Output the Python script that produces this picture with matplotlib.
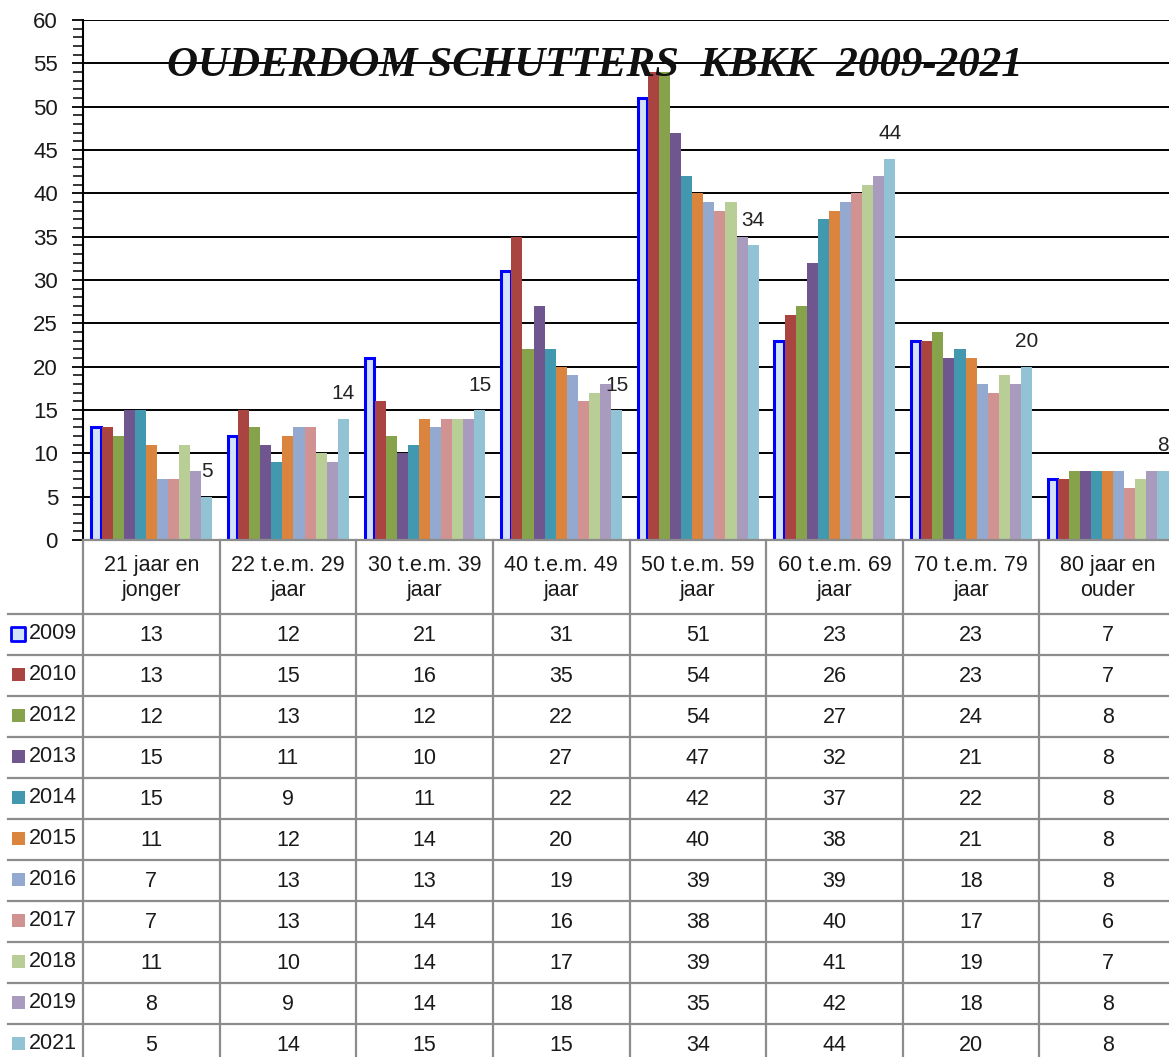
import numpy as np
import matplotlib
matplotlib.use("Agg")
import matplotlib.pyplot as plt
from matplotlib.ticker import MultipleLocator

plt.rcParams['font.family'] = ['Liberation Sans', 'DejaVu Sans']

# ---- data -------------------------------------------------------------
categorieen = ["21 jaar en\njonger", "22 t.e.m. 29\njaar", "30 t.e.m. 39\njaar",
               "40 t.e.m. 49\njaar", "50 t.e.m. 59\njaar", "60 t.e.m. 69\njaar",
               "70 t.e.m. 79\njaar", "80 jaar en\nouder"]
jaren = ["2009", "2010", "2012", "2013", "2014", "2015",
         "2016", "2017", "2018", "2019", "2021"]

w2009 = [13, 12, 21, 31, 51, 23, 23, 7]
w2010 = [13, 15, 16, 35, 54, 26, 23, 7]
w2012 = [12, 13, 12, 22, 54, 27, 24, 8]
w2013 = [15, 11, 10, 27, 47, 32, 21, 8]
w2014 = [15, 9, 11, 22, 42, 37, 22, 8]
w2015 = [11, 12, 14, 20, 40, 38, 21, 8]
w2016 = [7, 13, 13, 19, 39, 39, 18, 8]
w2017 = [7, 13, 14, 16, 38, 40, 17, 6]
w2018 = [11, 10, 14, 17, 39, 41, 19, 7]
w2019 = [8, 9, 14, 18, 35, 42, 18, 8]
w2021 = [5, 14, 15, 15, 34, 44, 20, 8]
reeksen = [w2009, w2010, w2012, w2013, w2014, w2015,
           w2016, w2017, w2018, w2019, w2021]

kleuren = ['#d3e2f8', '#a94441', '#86a34b', '#6f568f', '#4198af', '#db843d',
           '#93a9cf', '#d19392', '#b9cd96', '#a99bbd', '#92c3d4']

# ---- figuur -----------------------------------------------------------
W, H = 1169, 1057
fig = plt.figure(figsize=(W / 100, H / 100), dpi=100)

x_links, x_rechts = 83, 1176      # pixelgrenzen van het plotgebied
y_boven, y_onder = 20, 540
ax = fig.add_axes([x_links / W, 1 - y_onder / H,
                   (x_rechts - x_links) / W, (y_onder - y_boven) / H])

n_cat = len(categorieen)
n_ser = len(reeksen)
bw = 0.081
x = np.arange(n_cat) + 0.5

for j, (vals, kleur) in enumerate(zip(reeksen, kleuren)):
    pos = x + (j - (n_ser - 1) / 2) * bw
    if j == 0:
        ax.bar(pos, vals, width=bw * 0.84, color=kleur, edgecolor='#0000ff',
               linewidth=2.2, zorder=3)
    else:
        ax.bar(pos, vals, width=bw, color=kleur, edgecolor='none', zorder=3)
    if j == n_ser - 1:
        for xx, v in zip(pos, vals):
            ax.annotate(str(v), (xx, v), xytext=(0, 11), textcoords='offset points',
                        ha='center', va='bottom', fontsize=15, color='#222222',
                        annotation_clip=False)

ax.set_xlim(0, n_cat)
ax.set_ylim(0, 60)
ax.yaxis.set_major_locator(MultipleLocator(5))
ax.yaxis.set_minor_locator(MultipleLocator(1))
ax.tick_params(axis='y', which='major', direction='out', length=8, width=1.3,
               labelsize=16, pad=10, labelcolor='#1a1a1a')
ax.tick_params(axis='y', which='minor', direction='out', length=7, width=1.1)
ax.set_xticks([])
for s in ['top', 'right', 'bottom']:
    ax.spines[s].set_visible(False)
ax.spines['left'].set_linewidth(1.5)
for yv in range(5, 61, 5):
    ax.axhline(yv, color='black', lw=1.4, zorder=1)

ax.text(0.468, 0.912, "OUDERDOM SCHUTTERS  KBKK  2009-2021", transform=ax.transAxes,
        ha='center', va='center', fontsize=31, fontstyle='italic', fontweight='bold',
        family='Liberation Serif', color='#111111', zorder=5)

# ---- tabel onder de grafiek --------------------------------------------
tab = fig.add_axes([x_links / W, 0, (x_rechts - x_links) / W, (H - y_onder) / H])
tab.set_xlim(0, n_cat)
tab.set_ylim(H - y_onder, 0)
tab.axis('off')

kop_h = 74
rij_h = 41
px = (x_rechts - x_links) / n_cat
x_lab = (8 - x_links) / px        # linkerrand van de labelkolom
grijs = '#8c8c8c'

tab.plot([0, n_cat], [0, 0], color=grijs, lw=1.6, clip_on=False)
for i in range(n_cat + 1):
    tab.plot([i, i], [0, H], color=grijs, lw=1.6, clip_on=False)
for k in range(n_ser + 1):
    yk = kop_h + k * rij_h
    tab.plot([x_lab, n_cat], [yk, yk], color=grijs, lw=1.6, clip_on=False)

for i, c in enumerate(categorieen):
    tab.text(i + 0.5, kop_h / 2 + 1, c, ha='center', va='center', fontsize=15.5,
             linespacing=1.3, color='#1a1a1a')

for k, (jaar, vals, kleur) in enumerate(zip(jaren, reeksen, kleuren)):
    ym = kop_h + (k + 0.5) * rij_h
    sq = (x_lab + 5 / px)
    if k == 0:
        tab.scatter([sq + 0.5 * 11 / px], [ym - 1], marker='s', s=95, color=kleur,
                    edgecolor='#0000ff', linewidth=2, clip_on=False)
    else:
        tab.scatter([sq + 0.5 * 11 / px], [ym - 1], marker='s', s=95, color=kleur,
                    edgecolor='none', clip_on=False)
    tab.text(sq + 16 / px, ym - 1, jaar, ha='left', va='center', fontsize=15.5,
             color='#1a1a1a', clip_on=False)
    for i, v in enumerate(vals):
        tab.text(i + 0.5, ym + 1, str(v), ha='center', va='center', fontsize=15.5,
                 color='#1a1a1a')

fig.savefig("out.png", dpi=100)
